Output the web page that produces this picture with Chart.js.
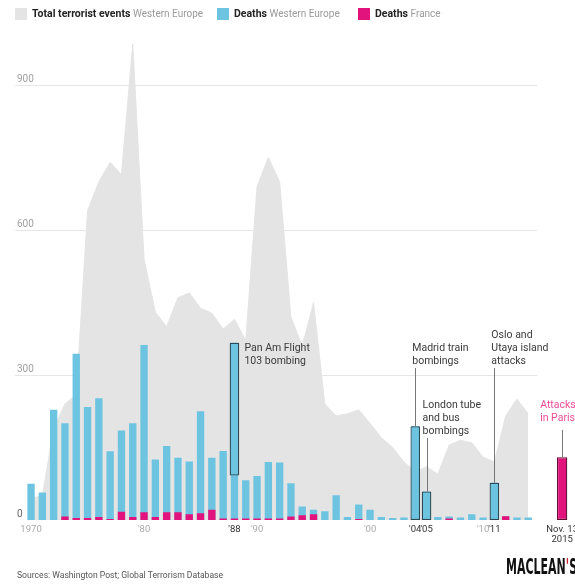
<!DOCTYPE html>
<html>
<head>
<meta charset="utf-8">
<script src="https://cdn.jsdelivr.net/npm/chart.js@4.4.1/dist/chart.umd.min.js"></script>
<style>
  html, body { margin: 0; padding: 0; background: #fff; }
</style>
</head>
<body>
<canvas id="canvas" width="575" height="586"></canvas>
<script>
let categories = ['1970', '1971', '1972', '1973', '1974', '1975', '1976', '1977', '1978', '1979',
    '1980', '1981', '1982', '1983', '1984', '1985', '1986', '1987', '1988', '1989',
    '1990', '1991', '1992', '1993', '1994', '1995', '1996', '1997', '1998', '1999',
    '2000', '2001', '2002', '2003', '2004', '2005', '2006', '2007', '2008', '2009',
    '2010', '2011', '2012', '2013', '2014', '', '', 'Paris']

// total terrorist events, Western Europe (grey area)
let totalEvents = [45, 50, 190, 240, 260, 640, 700, 740, 715, 985,
    540, 430, 400, 460, 470, 438, 428, 395, 415, 372,
    690, 750, 700, 420, 360, 450, 240, 215, 220, 228,
    200, 170, 150, 120, 100, 110, 95, 155, 165, 160,
    130, 120, 215, 250, 220, null, null, null]

// deaths, Western Europe (blue bars)
let deathsEurope = [75, 57, 228, 200, 344, 234, 252, 142, 185, 200,
    362, 125, 153, 129, 121, 225, 129, 143, 367, 82,
    91, 120, 119, 76, 28, 21, 18, 51, 6, 32,
    21, 6, 4, 5, 194, 59, 6, 7, 5, 12,
    5, 77, 8, 5, 5, null, null, null]

// deaths, France (pink bars)
let deathsFrance = [0, 0, 0, 7, 4, 4, 6, 2, 17, 6,
    16, 6, 16, 16, 12, 14, 21, 3, 3, 3,
    3, 3, 3, 7, 10, 12, 0, 0, 0, 2,
    0, 0, 0, 0, 0, 0, 0, 3, 0, 0,
    0, 0, 8, 0, 0, null, null, null]

let parisDeaths = 130

// outlined part of the bar for the single big attacks
let eventRanges = {'1988': [92, 367], '2004': [0, 194], '2005': [0, 59], '2011': [0, 77]}

let eventNotes = [
    {cat: '1988', text: ['Pan Am Flight', '103 bombing']},
    {cat: '2004', text: ['Madrid train', 'bombings']},
    {cat: '2005', text: ['London tube', 'and bus', 'bombings']},
    {cat: '2011', text: ['Oslo and', 'Utaya island', 'attacks']},
    {cat: 'Paris', text: ['Attacks', 'in Paris']}
]

let yTicks = [0, 300, 600, 900]
let tickText = {'1970': '1970', '1980': "'80", '1988': "'88", '1990': "'90", '2000': "'00",
    '2004': "'04", '2005': "'05", '2010': "'10", '2011': "'11", 'Paris': ['Nov. 13', '2015']}
let darkTicks = ['1988', '2004', '2005', '2011', 'Paris']

let legendItems = [
    {bold: 'Total terrorist events', light: 'Western Europe'},
    {bold: 'Deaths', light: 'Western Europe'},
    {bold: 'Deaths', light: 'France'}
]

let grey = '#e4e4e4'
let blue = '#6cc4e1'
let pink = '#e3137d'
let font = 'Roboto'

let outlineData = categories.map(c => eventRanges[c] || null)
let parisData = categories.map(c => c === 'Paris' ? parisDeaths : null)

// where each note sits relative to its bar (pixels)
let noteLayout = {
    '1988': {dx: 10, top: 348, lineTop: null, color: '#3a3a3a'},
    '2004': {dx: -3, top: 348, lineTop: 368, color: '#3a3a3a'},
    '2005': {dx: -4, top: 405, lineTop: 438, color: '#3a3a3a'},
    '2011': {dx: -3, top: 335, lineTop: 368, color: '#3a3a3a'},
    'Paris': {dx: -22, top: 405, lineTop: 430, color: '#ec4b98'}
}

let decor = {
    id: 'decor',
    beforeDatasetsDraw(chart) {
        let {ctx, scales: {x, y}} = chart
        let gridEnd = x.getPixelForValue(44) + 9
        ctx.save()
        ctx.strokeStyle = '#e6e6e6'
        ctx.lineWidth = 1
        yTicks.forEach(v => {
            if (v === 0) return
            let py = Math.round(y.getPixelForValue(v)) + 0.5
            ctx.beginPath()
            ctx.moveTo(15, py)
            ctx.lineTo(gridEnd, py)
            ctx.stroke()
        })
        ctx.restore()
    },
    afterDatasetsDraw(chart) {
        let {ctx, scales: {x, y}} = chart
        ctx.save()

        // y labels sit just above their grid line
        ctx.font = '10px ' + font
        ctx.textAlign = 'left'
        ctx.textBaseline = 'alphabetic'
        yTicks.forEach(v => {
            ctx.fillStyle = v === 0 ? '#666' : '#a0a0a0'
            ctx.fillText(String(v), 17, y.getPixelForValue(v) - 3)
        })

        // event notes with leader lines
        ctx.font = '10.5px ' + font
        ctx.textBaseline = 'middle'
        eventNotes.forEach(n => {
            let idx = categories.indexOf(n.cat)
            let cx = x.getPixelForValue(idx)
            let lay = noteLayout[n.cat]
            let value = n.cat === 'Paris' ? parisDeaths : deathsEurope[idx]
            ctx.fillStyle = lay.color
            n.text.forEach((t, i) => ctx.fillText(t, cx + lay.dx, lay.top + i * 13))
            if (lay.lineTop !== null) {
                ctx.strokeStyle = '#777'
                ctx.lineWidth = 1
                ctx.beginPath()
                ctx.moveTo(Math.round(cx) + 0.5, lay.lineTop)
                ctx.lineTo(Math.round(cx) + 0.5, y.getPixelForValue(value))
                ctx.stroke()
            }
        })

        // legend
        let swatches = [grey, blue, pink]
        let lx = [15, 217, 358]
        legendItems.forEach((item, i) => {
            ctx.fillStyle = swatches[i]
            ctx.fillRect(lx[i], 8, 12, 12)
            ctx.font = 'bold 10.5px ' + font
            ctx.fillStyle = '#222'
            ctx.textBaseline = 'middle'
            ctx.fillText(item.bold, lx[i] + 17, 14.5)
            let w = ctx.measureText(item.bold + ' ').width
            ctx.font = '10px ' + font
            ctx.fillStyle = '#9a9a9a'
            ctx.fillText(item.light, lx[i] + 17 + w, 14.5)
        })

        // source line
        ctx.font = '8.6px ' + font
        ctx.fillStyle = '#555'
        ctx.fillText('Sources: Washington Post; Global Terrorism Database', 17, 576)

        // Maclean's mark
        ctx.save()
        ctx.translate(506, 574)
        ctx.scale(0.5, 1)
        ctx.font = 'bold 22px "DejaVu Sans"'
        ctx.textBaseline = 'alphabetic'
        ctx.fillStyle = '#111'
        ctx.fillText("MACLEAN", 0, 0)
        let mw = ctx.measureText('MACLEAN').width
        ctx.fillStyle = '#d21f2b'
        ctx.fillText("'", mw, 0)
        let aw = ctx.measureText("'").width
        ctx.fillStyle = '#111'
        ctx.fillText('S', mw + aw, 0)
        ctx.restore()

        ctx.restore()
    }
}

let canvas = document.getElementById('canvas')
let ctx = canvas.getContext('2d')

let chart = new Chart(ctx, {
    type: 'bar',
    data: {
        labels: categories,
        datasets: [
            {
                label: 'Major attacks',
                data: outlineData,
                backgroundColor: blue,
                borderColor: '#2f4a55',
                borderWidth: 1.3,
                borderSkipped: false,
                barPercentage: 0.85,
                categoryPercentage: 1,
                grouped: false,
                order: 0
            },
            {
                label: 'Paris',
                data: parisData,
                backgroundColor: pink,
                borderColor: '#5e0f33',
                borderWidth: 1.3,
                borderSkipped: false,
                barPercentage: 0.92,
                categoryPercentage: 1,
                grouped: false,
                order: 1
            },
            {
                label: 'Deaths France',
                data: deathsFrance,
                backgroundColor: pink,
                barPercentage: 0.65,
                categoryPercentage: 1,
                grouped: false,
                order: 2
            },
            {
                label: 'Deaths Western Europe',
                data: deathsEurope,
                backgroundColor: blue,
                barPercentage: 0.65,
                categoryPercentage: 1,
                grouped: false,
                order: 3
            },
            {
                type: 'line',
                label: 'Total terrorist events Western Europe',
                data: totalEvents,
                fill: 'origin',
                backgroundColor: grey,
                borderColor: grey,
                borderWidth: 1,
                pointRadius: 0,
                tension: 0,
                order: 4
            }
        ]
    },
    options: {
        responsive: false,
        animation: false,
        devicePixelRatio: 1,
        events: [],
        layout: {padding: {left: 25.4, right: 7.2, top: 36.7, bottom: 37}},
        plugins: {legend: {display: false}, tooltip: {enabled: false}},
        scales: {
            x: {
                grid: {display: false, drawTicks: false},
                border: {display: false},
                ticks: {
                    autoSkip: false,
                    maxRotation: 0,
                    minRotation: 0,
                    padding: 5,
                    font: {family: font, size: 9.5, lineHeight: 1},
                    color: c => darkTicks.includes(categories[c.index]) ? '#333' : '#aaa',
                    callback: (v, i) => tickText[categories[i]] || ''
                },
                afterFit: s => { s.paddingLeft = 0; s.paddingRight = 0 }
            },
            y: {display: false, min: 0, max: 1000}
        }
    },
    plugins: [decor]
})
</script>
</body>
</html>
